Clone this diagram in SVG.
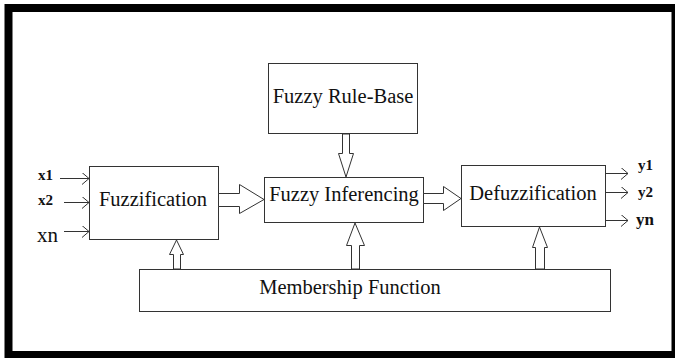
<svg xmlns="http://www.w3.org/2000/svg" width="675" height="358" viewBox="0 0 675 358">
<defs>
<style>
.box{fill:#fff;stroke:#333;stroke-width:1}
.arr{fill:#fff;stroke:#333;stroke-width:1}
.ln{stroke:#333;stroke-width:1;fill:none;marker-end:url(#open)}
.t{font-family:'Liberation Serif','DejaVu Serif',serif;font-size:20.5px;fill:#111;text-anchor:middle}
.s{font-family:'Liberation Serif','DejaVu Serif',serif;fill:#111}
</style>
<marker id="open" markerUnits="userSpaceOnUse" markerWidth="9" markerHeight="14" refX="7" refY="6" orient="auto">
<path d="M0,0 L7,6 L0,12" fill="none" stroke="#333" stroke-width="1"/>
</marker>
</defs>
<rect x="0" y="0" width="675" height="358" fill="#fff"/>
<rect x="8.5" y="8" width="667" height="347" fill="none" stroke="#000" stroke-width="8"/>

<g id="rulebase">
<rect class="box" x="268.5" y="63.5" width="149" height="70"/>
<text class="t" x="343" y="103">Fuzzy Rule-Base</text>
</g>
<g id="fuzzification">
<rect class="box" x="89.5" y="166.5" width="129" height="73"/>
<text class="t" x="153" y="206">Fuzzification</text>
</g>
<g id="inferencing">
<rect class="box" x="264.5" y="177.5" width="159" height="45"/>
<text class="t" x="344" y="201">Fuzzy Inferencing</text>
</g>
<g id="defuzzification">
<rect class="box" x="461.5" y="165.5" width="144" height="61"/>
<text class="t" x="533" y="200">Defuzzification</text>
</g>
<g id="membership">
<rect class="box" x="139.5" y="269.5" width="471" height="42"/>
<text class="t" x="350" y="294">Membership Function</text>
</g>

<g id="labels">
<text class="s" x="38" y="180" font-size="15" font-weight="bold">x1</text>
<text class="s" x="38" y="205" font-size="15" font-weight="bold">x2</text>
<text class="s" x="37" y="242" font-size="21">xn</text>
<text class="s" x="638" y="170" font-size="15" font-weight="bold">y1</text>
<text class="s" x="638" y="197" font-size="15" font-weight="bold">y2</text>
<text class="s" x="636" y="225" font-size="17" font-weight="bold">yn</text>
</g>

<g id="connectors">
<line class="ln" x1="60" y1="178.5" x2="89" y2="178.5"/>
<line class="ln" x1="64" y1="202.5" x2="89" y2="202.5"/>
<line class="ln" x1="64" y1="231.5" x2="89" y2="231.5"/>
<line class="ln" x1="606" y1="173.5" x2="628" y2="173.5"/>
<line class="ln" x1="606" y1="192.5" x2="628" y2="192.5"/>
<line class="ln" x1="606" y1="220.5" x2="628" y2="220.5"/>
<polygon class="arr" points="218.5,193.5 239.5,193.5 239.5,184.5 264,199.5 239.5,213.5 239.5,206.5 218.5,206.5"/>
<polygon class="arr" points="423.5,193.5 443.5,193.5 443.5,186.5 461,198.5 443.5,210.5 443.5,203.5 423.5,203.5"/>
<polygon class="arr" points="342.5,134 349.5,134 349.5,153.5 353.5,153.5 346,177 338.5,153.5 342.5,153.5"/>
<polygon class="arr" points="173.5,269 173.5,254.5 169.5,254.5 176.5,240 183.5,254.5 180.5,254.5 180.5,269"/>
<polygon class="arr" points="351.5,269 351.5,245.5 346.5,245.5 355,223 364.5,245.5 359.5,245.5 359.5,269"/>
<polygon class="arr" points="535.5,269 535.5,247.5 532.5,247.5 539.5,227 547.5,247.5 544.5,247.5 544.5,269"/>
</g>
</svg>
